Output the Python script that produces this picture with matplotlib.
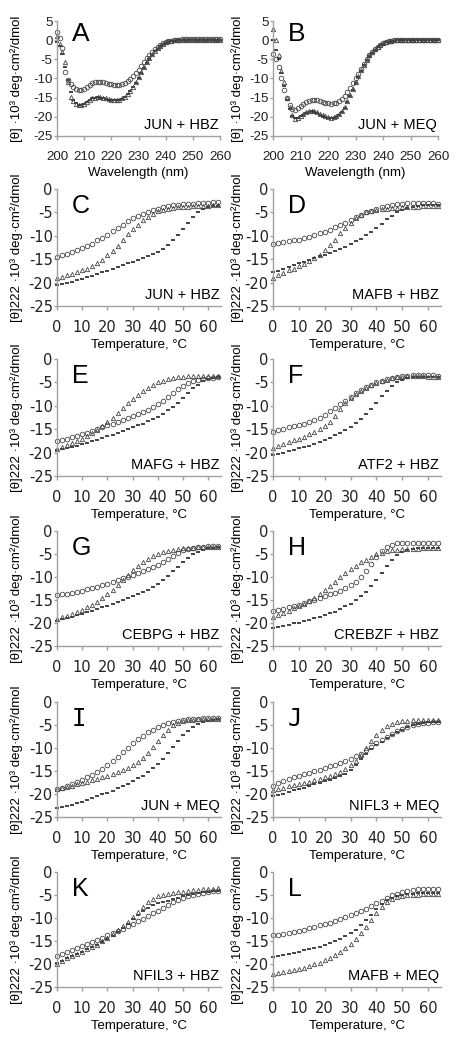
import matplotlib
matplotlib.use("Agg")
import matplotlib.pyplot as plt

plt.rcParams["font.family"] = ["Liberation Sans", "DejaVu Sans"]
plt.rcParams["axes.unicode_minus"] = False

# x grids
WAVE = list(range(200, 261))   # nm, 1 nm steps
TEMP = list(range(0, 65, 2))    # degC, 2 degC steps

# ---- CD spectra (panels A, B) ----
A_circ = [2.0, 0.5, -2.0, -8.4, -10.3, -11.4, -12.2, -12.8, -13.1, -13.1,
          -12.7, -12.1, -11.6, -11.2, -11.0, -10.9, -10.9, -11.0, -11.2, -11.4,
          -11.5, -11.6, -11.6, -11.6, -11.4, -11.1, -10.7, -10.1, -9.4, -8.6,
          -7.7, -6.7, -5.7, -4.7, -3.8, -3.0, -2.3, -1.7, -1.2, -0.8,
          -0.5, -0.3, -0.1, 0.0, 0.1, 0.1, 0.2, 0.2, 0.2, 0.2,
          0.2, 0.2, 0.2, 0.2, 0.2, 0.2, 0.2, 0.2, 0.2, 0.2, 0.2]
A_tri = [1.0, -1.0, -3.0, -5.8, -11.0, -14.8, -16.0, -16.6, -17.0, -17.0,
         -16.6, -16.1, -15.6, -15.2, -15.0, -14.8, -14.9, -15.0, -15.2, -15.4,
         -15.5, -15.6, -15.6, -15.5, -15.2, -14.7, -14.0, -13.2, -12.2, -11.0,
         -9.7, -8.4, -7.0, -5.7, -4.6, -3.6, -2.7, -2.0, -1.4, -0.9,
         -0.6, -0.3, -0.1, 0.0, 0.0, 0.0, 0.0, 0.0, 0.0, 0.0,
         0.0, 0.0, 0.0, 0.0, 0.0, 0.0, 0.0, 0.0, 0.0, 0.0, 0.0]
A_dash = [-0.5, -1.5, -3.5, -7.0, -10.5, -13.5, -15.5, -16.5, -17.0, -17.0,
          -16.6, -16.1, -15.6, -15.2, -15.0, -14.9, -15.0, -15.1, -15.3, -15.5,
          -15.6, -15.7, -15.7, -15.6, -15.3, -14.8, -14.1, -13.3, -12.3, -11.1,
          -9.8, -8.5, -7.2, -5.9, -4.8, -3.8, -2.9, -2.2, -1.6, -1.1,
          -0.7, -0.4, -0.2, -0.1, 0.0, 0.0, 0.0, 0.0, 0.0, 0.0,
          0.0, 0.0, 0.0, 0.0, 0.0, 0.0, 0.0, 0.0, 0.0, 0.0, 0.0]

B_circ = [-3.5, -5.0, -7.0, -9.8, -13.0, -15.0, -17.0, -18.0, -18.2, -17.8,
          -17.2, -16.6, -16.1, -15.8, -15.6, -15.6, -15.7, -15.9, -16.1, -16.3,
          -16.5, -16.6, -16.5, -16.3, -15.9, -15.3, -14.5, -13.5, -12.4, -11.2,
          -10.0, -8.7, -7.4, -6.1, -5.0, -4.0, -3.1, -2.3, -1.7, -1.2,
          -0.8, -0.5, -0.3, -0.1, 0.0, 0.0, 0.0, 0.0, 0.0, 0.0,
          0.0, 0.0, 0.0, 0.0, 0.0, 0.0, 0.0, 0.0, 0.0, 0.0, 0.0]
B_tri = [3.0, 0.0, -4.0, -8.0, -11.0, -15.0, -17.5, -19.5, -20.5, -20.3,
         -19.8, -19.2, -18.8, -18.5, -18.4, -18.5, -18.8, -19.2, -19.6, -19.9,
         -20.1, -20.2, -20.1, -19.8, -19.3, -18.5, -17.4, -16.0, -14.4, -12.7,
         -11.0, -9.3, -7.8, -6.4, -5.1, -4.0, -3.1, -2.3, -1.7, -1.2,
         -0.8, -0.5, -0.3, -0.1, 0.0, 0.0, 0.0, 0.0, 0.0, 0.0,
         0.0, 0.0, 0.0, 0.0, 0.0, 0.0, 0.0, 0.0, 0.0, 0.0, 0.0]
B_dash = [0.0, -2.5, -5.0, -8.5, -12.0, -15.5, -18.0, -19.8, -20.4, -20.3,
          -19.9, -19.4, -19.0, -18.7, -18.6, -18.7, -19.0, -19.4, -19.8, -20.1,
          -20.3, -20.4, -20.3, -20.0, -19.5, -18.7, -17.6, -16.2, -14.6, -12.9,
          -11.2, -9.5, -8.0, -6.6, -5.3, -4.2, -3.3, -2.5, -1.8, -1.3,
          -0.9, -0.6, -0.4, -0.2, -0.1, 0.0, 0.0, 0.0, 0.0, 0.0,
          0.0, 0.0, 0.0, 0.0, 0.0, 0.0, 0.0, 0.0, 0.0, 0.0, 0.0]

# ---- thermal melts at 222 nm (panels C-L) ----
C_circ = [-14.5, -14.2, -13.8, -13.5, -13.1, -12.7, -12.2, -11.7, -11.0, -10.4, -9.8, -9.0, -8.3, -7.6, -6.9, -6.3,
          -5.8, -5.3, -4.9, -4.5, -4.2, -3.9, -3.7, -3.5, -3.4, -3.3, -3.2, -3.1, -3.0, -2.9, -2.9, -2.8, -2.8]
C_tri = [-19.0, -18.7, -18.4, -18.1, -17.8, -17.4, -17.0, -16.5, -15.9, -15.1, -14.2, -13.2, -12.1, -10.9, -9.7, -8.6,
         -7.6, -6.7, -5.9, -5.3, -4.8, -4.5, -4.2, -4.0, -3.9, -3.8, -3.8, -3.7, -3.7, -3.6, -3.6, -3.5, -3.5]
C_dash = [-20.6, -20.4, -20.1, -19.8, -19.5, -19.2, -18.9, -18.5, -18.2, -17.8, -17.5, -17.1, -16.7, -16.3, -15.9, -15.5,
          -15.1, -14.7, -14.3, -13.9, -13.4, -12.8, -12.0, -11.0, -9.8, -8.5, -7.2, -6.0, -5.0, -4.3, -3.9, -3.7, -3.6]

D_circ = [-11.8, -11.6, -11.4, -11.2, -11.0, -10.8, -10.5, -10.2, -9.9, -9.5, -9.1, -8.7, -8.2, -7.7, -7.2, -6.6,
          -6.0, -5.5, -5.0, -4.6, -4.2, -3.9, -3.6, -3.4, -3.2, -3.1, -3.0, -3.0, -3.0, -3.0, -3.0, -3.0, -3.1]
D_tri = [-19.0, -18.4, -17.9, -17.4, -17.0, -16.5, -16.0, -15.4, -14.8, -14.0, -13.1, -12.0, -10.8, -9.5, -8.3, -7.2,
         -6.3, -5.6, -5.0, -4.7, -4.5, -4.3, -4.2, -4.1, -4.0, -3.9, -3.9, -3.8, -3.8, -3.7, -3.7, -3.7, -3.7]
D_dash = [-17.8, -17.5, -17.1, -16.7, -16.3, -15.9, -15.5, -15.2, -14.8, -14.4, -14.0, -13.6, -13.2, -12.8, -12.3, -11.8,
          -11.2, -10.6, -9.9, -9.1, -8.3, -7.4, -6.5, -5.7, -5.0, -4.5, -4.1, -3.8, -3.6, -3.5, -3.4, -3.4, -3.4]

E_circ = [-17.5, -17.3, -17.0, -16.7, -16.4, -16.1, -15.8, -15.4, -15.0, -14.6, -14.2, -13.8, -13.4, -13.0, -12.6, -12.2,
          -11.8, -11.3, -10.8, -10.2, -9.6, -8.9, -8.1, -7.3, -6.5, -5.8, -5.2, -4.8, -4.5, -4.3, -4.1, -4.0, -3.9]
E_tri = [-19.2, -18.8, -18.4, -18.0, -17.5, -17.0, -16.4, -15.8, -15.1, -14.3, -13.5, -12.6, -11.6, -10.5, -9.5, -8.5,
         -7.6, -6.8, -6.1, -5.5, -5.0, -4.6, -4.3, -4.1, -3.9, -3.8, -3.7, -3.7, -3.6, -3.6, -3.6, -3.6, -3.6]
E_dash = [-19.5, -19.3, -19.0, -18.8, -18.5, -18.2, -17.9, -17.6, -17.3, -16.9, -16.5, -16.2, -15.8, -15.4, -15.0, -14.6,
          -14.2, -13.8, -13.3, -12.8, -12.3, -11.7, -11.0, -10.2, -9.3, -8.3, -7.3, -6.3, -5.5, -4.8, -4.3, -4.0, -3.8]

F_circ = [-15.5, -15.2, -14.9, -14.6, -14.4, -14.1, -13.8, -13.4, -13.0, -12.5, -11.9, -11.2, -10.5, -9.7, -8.9, -8.1,
          -7.3, -6.6, -6.0, -5.5, -5.0, -4.6, -4.3, -4.1, -3.9, -3.7, -3.6, -3.5, -3.5, -3.5, -3.5, -3.5, -3.6]
F_tri = [-19.0, -18.6, -18.2, -17.8, -17.4, -17.0, -16.6, -16.1, -15.6, -15.0, -14.3, -13.4, -12.2, -10.7, -9.3, -8.3,
         -7.5, -6.8, -6.2, -5.6, -5.1, -4.7, -4.4, -4.1, -3.9, -3.8, -3.7, -3.7, -3.7, -3.7, -3.8, -3.8, -3.8]
F_dash = [-20.5, -20.3, -20.0, -19.7, -19.4, -19.1, -18.8, -18.5, -18.1, -17.7, -17.3, -16.8, -16.3, -15.8, -15.2, -14.5,
          -13.7, -12.8, -11.8, -10.6, -9.3, -8.0, -6.8, -5.7, -4.9, -4.4, -4.1, -3.9, -3.8, -3.8, -3.8, -3.8, -3.8]

G_circ = [-14.0, -13.8, -13.6, -13.4, -13.2, -13.0, -12.7, -12.4, -12.1, -11.8, -11.5, -11.1, -10.7, -10.3, -9.9, -9.5,
          -9.1, -8.7, -8.3, -7.9, -7.4, -6.8, -6.1, -5.4, -4.7, -4.2, -3.9, -3.7, -3.5, -3.4, -3.3, -3.2, -3.2]
G_tri = [-19.2, -18.8, -18.4, -18.0, -17.6, -17.1, -16.6, -16.0, -15.4, -14.6, -13.8, -12.9, -11.8, -10.6, -9.5, -8.5,
         -7.6, -6.8, -6.1, -5.5, -5.0, -4.6, -4.3, -4.1, -3.9, -3.8, -3.7, -3.6, -3.5, -3.5, -3.4, -3.4, -3.5]
G_dash = [-19.5, -19.2, -18.9, -18.6, -18.3, -18.0, -17.7, -17.3, -17.0, -16.6, -16.2, -15.8, -15.4, -15.0, -14.6, -14.2,
          -13.8, -13.3, -12.8, -12.2, -11.5, -10.7, -9.8, -8.8, -7.8, -6.8, -5.9, -5.1, -4.5, -4.1, -3.8, -3.6, -3.5]

H_circ = [-17.4, -17.2, -16.9, -16.6, -16.3, -16.0, -15.7, -15.3, -15.0, -14.6, -14.2, -13.8, -13.4, -13.0, -12.4, -11.8,
          -11.0, -9.9, -8.6, -7.1, -5.6, -4.4, -3.5, -3.0, -2.7, -2.6, -2.6, -2.6, -2.6, -2.6, -2.6, -2.6, -2.6]
H_tri = [-18.8, -18.3, -17.8, -17.3, -16.8, -16.3, -15.8, -15.2, -14.5, -13.7, -12.9, -12.0, -11.1, -10.1, -9.2, -8.3,
         -7.5, -6.8, -6.2, -5.6, -5.1, -4.7, -4.4, -4.2, -4.1, -4.0, -4.0, -3.9, -3.9, -3.8, -3.8, -3.8, -3.8]
H_dash = [-21.0, -20.8, -20.6, -20.4, -20.1, -19.9, -19.6, -19.3, -19.0, -18.7, -18.3, -17.9, -17.5, -17.0, -16.4, -15.8,
          -15.1, -14.2, -13.2, -12.0, -10.6, -9.1, -7.6, -6.3, -5.2, -4.5, -4.1, -3.9, -3.8, -3.8, -3.7, -3.7, -3.7]

I_circ = [-19.0, -18.7, -18.3, -17.9, -17.4, -16.9, -16.4, -15.8, -15.2, -14.5, -13.7, -12.8, -11.9, -10.9, -9.9, -9.0,
          -8.1, -7.3, -6.6, -6.0, -5.5, -5.0, -4.6, -4.3, -4.1, -3.9, -3.8, -3.7, -3.6, -3.5, -3.5, -3.4, -3.4]
I_tri = [-19.0, -18.8, -18.5, -18.2, -17.9, -17.6, -17.3, -17.0, -16.7, -16.4, -16.0, -15.7, -15.3, -14.8, -14.3, -13.7,
         -13.0, -12.1, -11.0, -9.8, -8.5, -7.2, -6.0, -5.1, -4.5, -4.2, -4.0, -3.9, -3.8, -3.7, -3.7, -3.6, -3.6]
I_dash = [-23.1, -22.9, -22.6, -22.3, -22.0, -21.7, -21.3, -20.9, -20.5, -20.1, -19.7, -19.3, -18.8, -18.3, -17.8, -17.2,
          -16.6, -16.0, -15.2, -14.4, -13.4, -12.3, -11.0, -9.7, -8.4, -7.2, -6.2, -5.4, -4.8, -4.4, -4.1, -3.9, -3.8]

J_circ = [-18.2, -17.6, -17.1, -16.7, -16.4, -16.1, -15.7, -15.4, -15.0, -14.7, -14.3, -14.0, -13.6, -13.2, -12.8, -12.3,
          -11.8, -11.2, -10.5, -9.8, -9.0, -8.3, -7.6, -6.9, -6.3, -5.8, -5.4, -5.1, -4.8, -4.6, -4.5, -4.4, -4.3]
J_tri = [-19.2, -18.9, -18.6, -18.3, -18.0, -17.8, -17.5, -17.3, -17.0, -16.7, -16.4, -16.1, -15.7, -15.2, -14.6, -13.8,
         -12.8, -11.5, -10.0, -8.5, -7.1, -6.0, -5.2, -4.7, -4.4, -4.2, -4.1, -4.0, -4.0, -3.9, -3.9, -3.9, -3.9]
J_dash = [-20.5, -20.2, -19.9, -19.5, -19.2, -18.9, -18.6, -18.3, -17.9, -17.6, -17.2, -16.9, -16.5, -16.1, -15.6, -14.8,
          -13.7, -12.3, -11.2, -10.2, -9.4, -8.6, -7.9, -7.2, -6.6, -6.0, -5.5, -5.1, -4.8, -4.6, -4.4, -4.3, -4.3]

K_circ = [-18.2, -17.8, -17.3, -16.9, -16.5, -16.1, -15.7, -15.3, -14.8, -14.3, -13.8, -13.3, -12.8, -12.3, -11.8, -11.2,
          -10.7, -10.2, -9.6, -9.0, -8.4, -7.8, -7.2, -6.6, -6.1, -5.7, -5.3, -5.0, -4.8, -4.6, -4.4, -4.2, -4.1]
K_tri = [-20.0, -19.4, -18.8, -18.3, -17.8, -17.3, -16.8, -16.3, -15.8, -15.1, -14.3, -13.5, -12.7, -11.8, -10.8, -9.7,
         -8.6, -7.5, -6.6, -5.8, -5.3, -5.0, -4.8, -4.6, -4.4, -4.3, -4.1, -4.0, -3.9, -3.8, -3.7, -3.6, -3.5]
K_dash = [-19.8, -19.3, -18.8, -18.3, -17.8, -17.3, -16.8, -16.3, -15.8, -15.2, -14.6, -13.9, -13.1, -12.2, -11.2, -10.2,
          -9.3, -8.5, -7.8, -7.2, -6.8, -6.5, -6.2, -5.9, -5.6, -5.3, -5.0, -4.8, -4.6, -4.4, -4.3, -4.2, -4.1]

L_circ = [-13.8, -13.6, -13.4, -13.2, -13.0, -12.8, -12.5, -12.2, -11.9, -11.6, -11.3, -11.0, -10.6, -10.2, -9.8, -9.4,
          -9.0, -8.5, -8.0, -7.4, -6.8, -6.2, -5.6, -5.1, -4.7, -4.4, -4.2, -4.0, -3.8, -3.7, -3.7, -3.6, -3.6]
L_tri = [-22.2, -22.0, -21.8, -21.6, -21.4, -21.1, -20.8, -20.5, -20.1, -19.7, -19.2, -18.7, -18.1, -17.4, -16.6, -15.6,
         -14.5, -13.3, -12.0, -10.5, -8.9, -7.5, -6.5, -5.9, -5.5, -5.3, -5.1, -5.0, -4.9, -4.8, -4.8, -4.8, -4.8]
L_dash = [-18.4, -18.2, -18.0, -17.8, -17.6, -17.3, -17.0, -16.8, -16.5, -16.2, -15.9, -15.5, -15.1, -14.6, -14.0, -13.3,
          -12.5, -11.6, -10.5, -9.3, -8.0, -6.9, -6.1, -5.6, -5.2, -5.0, -4.8, -4.7, -4.6, -4.5, -4.5, -4.5, -4.5]

LETTERS = ["A", "B", "C", "D", "E", "F", "G", "H", "I", "J", "K", "L"]
PAIRS = ["JUN + HBZ", "JUN + MEQ", "JUN + HBZ", "MAFB + HBZ", "MAFG + HBZ", "ATF2 + HBZ",
         "CEBPG + HBZ", "CREBZF + HBZ", "JUN + MEQ", "NIFL3 + MEQ", "NFIL3 + HBZ", "MAFB + MEQ"]
SERIES = [(A_circ, A_tri, A_dash), (B_circ, B_tri, B_dash), (C_circ, C_tri, C_dash), (D_circ, D_tri, D_dash),
          (E_circ, E_tri, E_dash), (F_circ, F_tri, F_dash), (G_circ, G_tri, G_dash), (H_circ, H_tri, H_dash),
          (I_circ, I_tri, I_dash), (J_circ, J_tri, J_dash), (K_circ, K_tri, K_dash), (L_circ, L_tri, L_dash)]

W, H = 458, 1050
ROW_TOP = [21, 189, 359, 531, 702, 872]
ROW_BOT = [136, 306, 476, 646, 817, 987]
AXIS_COL = "#a0a0a0"
MARK_COL = "#454545"
TICK_COL = "#222222"

fig = plt.figure(figsize=(W / 100, H / 100), dpi=100)

for i, letter in enumerate(LETTERS):
    row, col = divmod(i, 2)
    spectrum = row == 0
    if col == 0:
        x0, x1 = (57, 220) if spectrum else (57, 221)
    else:
        x0, x1 = (273, 438) if spectrum else (273, 441)
    y0, y1 = ROW_TOP[row], ROW_BOT[row]
    ax = fig.add_axes([x0 / W, 1 - y1 / H, (x1 - x0) / W, (y1 - y0) / H])

    circ, tri, dash = SERIES[i]
    x = WAVE if spectrum else TEMP
    ax.plot(x, dash, ls="none", marker="_", ms=2.6, mew=1.1, color="#111111", clip_on=False)
    ax.plot(x, tri, ls="none", marker="^", ms=3.1, mfc="none", mec=MARK_COL, mew=0.6, clip_on=False)
    ax.plot(x, circ, ls="none", marker="o", ms=3.3, mfc="none", mec=MARK_COL, mew=0.6, clip_on=False)

    if spectrum:
        ax.set_xlim(200, 260)
        ax.set_ylim(-25, 5)
        ax.set_xticks(range(200, 261, 10))
        ax.set_yticks(range(-25, 6, 5))
        ax.set_xlabel("Wavelength (nm)", fontsize=9.5, labelpad=2.5)
        ax.set_ylabel("[θ] ·10³ deg·cm²/dmol", fontsize=9.5)
        tick_font = dict(family="Liberation Sans", size=9.6)
        xpad = 8
    else:
        ax.set_xlim(0, 65)
        ax.set_ylim(-25, 0)
        ax.set_xticks(range(0, 61, 10))
        ax.set_yticks(range(-25, 1, 5))
        ax.set_xlabel("Temperature, °C", fontsize=9.5, labelpad=3)
        ax.set_ylabel("[θ]222 ·10³ deg·cm²/dmol", fontsize=9.5)
        tick_font = dict(family="DejaVu Sans", size=10.5)
        xpad = 7
    ax.yaxis.set_label_coords(-0.207 if col == 0 else -0.173, 0.5)

    for side in ("top", "right"):
        ax.spines[side].set_visible(False)
    for side in ("left", "bottom"):
        ax.spines[side].set_color(AXIS_COL)
        ax.spines[side].set_linewidth(1.0)
    ax.tick_params(direction="out", length=3, width=1.0, color=AXIS_COL, labelcolor=TICK_COL)
    ax.tick_params(axis="x", pad=xpad)
    ax.tick_params(axis="y", length=2, pad=1)
    for lab in ax.get_xticklabels() + ax.get_yticklabels():
        lab.set_fontfamily(tick_font["family"])
        lab.set_fontsize(tick_font["size"])
    ax.set_facecolor("none")

    if letter in ("I", "J"):
        ax.text(0.09, 0.96, letter, transform=ax.transAxes, ha="left", va="top",
                fontsize=17, family="DejaVu Sans Mono")
    else:
        ax.text(0.09, 0.99 if spectrum else 0.96, letter, transform=ax.transAxes,
                ha="left", va="top", fontsize=19 if spectrum else 18)
    ax.text(0.99, 0.06, PAIRS[i], transform=ax.transAxes, ha="right", va="baseline",
            fontsize=10.5)

fig.savefig("out.png", dpi=100)
